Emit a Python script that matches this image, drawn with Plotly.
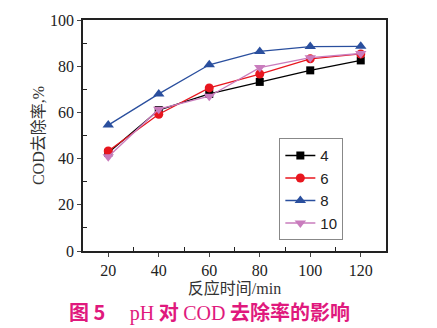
import plotly.graph_objects as go

time_min = [20, 40, 60, 80, 100, 120]
ph4 = [42.5, 61.0, 68.0, 73.2, 78.2, 82.5]
ph6 = [43.3, 59.2, 70.6, 76.6, 83.2, 85.3]
ph8 = [54.5, 68.0, 80.6, 86.4, 88.5, 88.6]
ph10 = [40.8, 61.4, 67.0, 79.4, 83.7, 85.5]
series_names = ["4", "6", "8", "10"]
y_ticks = [0, 20, 40, 60, 80, 100]
x_ticks = [20, 40, 60, 80, 100, 120]

styles = [
    ("#000000", "square", 8),
    ("#e8161e", "circle", 9),
    ("#2a4f9e", "triangle-up", 10),
    ("#c97cbd", "triangle-down", 10),
]

fig = go.Figure()
for name, ys, (col, sym, sz) in zip(series_names, [ph4, ph6, ph8, ph10], styles):
    fig.add_trace(go.Scatter(
        x=time_min, y=ys, name=name, mode="lines+markers",
        line=dict(color=col, width=1.3),
        marker=dict(symbol=sym, size=sz, color=col),
    ))

serif = "Liberation Serif, Times New Roman, Noto Sans CJK SC, serif"
fig.update_layout(
    width=437, height=328,
    margin=dict(l=83, r=51, t=14, b=77),
    paper_bgcolor="white", plot_bgcolor="white",
    font=dict(family=serif, size=14, color="#222"),
    showlegend=True,
    legend=dict(
        x=0.648, y=0.488, xanchor="left", yanchor="top",
        bgcolor="white", bordercolor="#888", borderwidth=1,
        font=dict(family="Liberation Sans, Arial, sans-serif", size=15, color="#222"),
        itemwidth=30, tracegroupgap=0,
    ),
    xaxis=dict(
        range=[10, 130], tickvals=x_ticks, ticks="outside", ticklen=4,
        showline=True, linecolor="#222", linewidth=1.5, mirror=True,
        showgrid=False, zeroline=False,
        tickfont=dict(family=serif, size=16, color="#222"),
        minor=dict(tickvals=[30, 50, 70, 90, 110], ticks="inside", ticklen=4, tickcolor="#222"),
        title=dict(text="反应时间/min", font=dict(family=serif, size=16, color="#333"), standoff=3),
    ),
    yaxis=dict(
        range=[0, 100], tickvals=y_ticks, ticks="outside", ticklen=4,
        showline=True, linecolor="#222", linewidth=1.5, mirror=True,
        showgrid=False, zeroline=False,
        tickfont=dict(family=serif, size=16, color="#222"),
        minor=dict(tickvals=[10, 30, 50, 70, 90], ticks="inside", ticklen=4, tickcolor="#222"),
        title=dict(text="COD去除率,%", font=dict(family=serif, size=16, color="#333"), standoff=1),
    ),
)

fig.add_annotation(
    xref="paper", yref="paper", x=0.419, y=-0.262, xanchor="center", yanchor="middle",
    showarrow=False,
    text=("<b>图 5</b>　 <span style='font-family:Liberation Serif'>pH</span> <b>对</b> "
          "<span style='font-family:Liberation Serif'>COD</span> <b>去除率的影响</b>"),
    font=dict(family="Noto Sans CJK SC, sans-serif", size=20, color="#e0197d"),
)

fig.write_html("out.html")
